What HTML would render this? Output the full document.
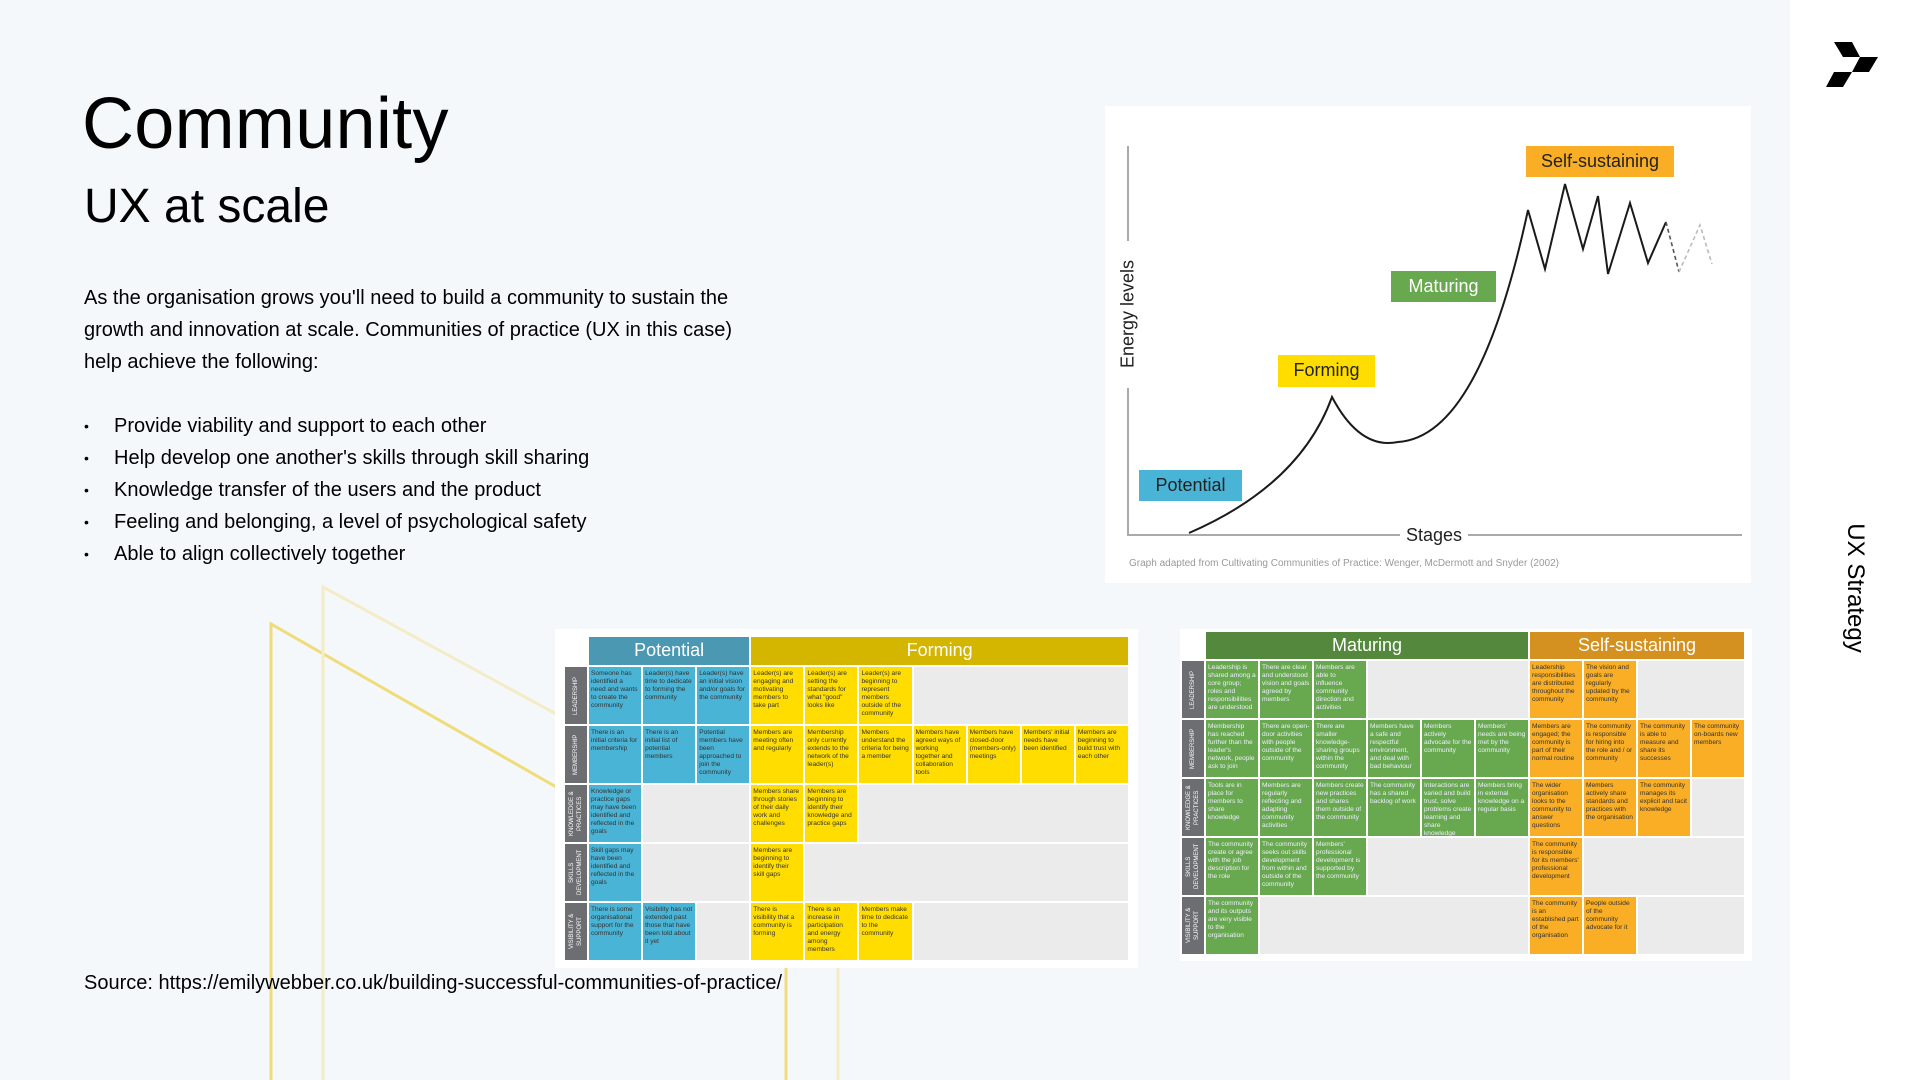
<!DOCTYPE html>
<html><head><meta charset="utf-8">
<style>
*{margin:0;padding:0;box-sizing:border-box}
body{width:1920px;height:1080px;position:relative;overflow:hidden;background:#fff;font-family:"Liberation Sans",Arial,sans-serif;color:#000}
#main{position:absolute;left:0;top:0;width:1790px;height:1080px;background:#f5f8fb}
.abs{position:absolute}
h1{position:absolute;left:82px;top:84px;font-size:72px;font-weight:400;line-height:80px;letter-spacing:0.3px}
h2{position:absolute;left:84px;top:180px;font-size:48px;font-weight:400;line-height:54px}
.p{position:absolute;left:84px;top:282px;font-size:20px;line-height:32px;width:670px}
ul{position:absolute;left:84px;top:410px;list-style:none;font-size:20px;line-height:32px}
ul li{position:relative;padding-left:30px}
ul li:before{content:"•";position:absolute;left:0;font-size:14px}
.src{position:absolute;left:84px;top:969px;font-size:20px;line-height:28px}
.card{position:absolute;background:#fff}
.tbl{position:absolute;display:grid;gap:2px}
.tbl div{font-size:6.6px;line-height:8px;padding:3px 2px;overflow:hidden;color:#333}
.lab{background:#6d6e71;color:#fff!important;writing-mode:vertical-rl;transform:rotate(180deg);text-align:center;font-size:6px!important;display:flex;align-items:center;justify-content:center;padding:1px!important}
.h{color:#fff!important;font-size:18px!important;line-height:26px!important;text-align:center;padding:0!important}
.b{background:#4ab4d6}.y{background:#ffdd00}.g{background:#68a84e;color:#eef!important}.o{background:#f9ae25}.e{background:#ebebeb}
.cl{position:absolute;font-size:18px;color:#222;line-height:30px;text-align:center}
</style></head><body>
<div id="main"></div>
<svg class="abs" style="left:0;top:0" width="1920" height="1080">
<polyline points="271,1080 271,624 558,788" fill="none" stroke="#efdc7a" stroke-width="3"/>
<polyline points="323,1080 323,587 558,715" fill="none" stroke="#f3ecc6" stroke-width="3"/>
<line x1="786" y1="968" x2="786" y2="1080" stroke="#efdc7a" stroke-width="3"/>
<line x1="838" y1="968" x2="838" y2="1080" stroke="#f3ecc6" stroke-width="3"/>
<polygon points="1834,42 1852,42 1860,57 1843,57" fill="#000"/>
<polygon points="1860,57 1878,57 1869,72 1852,72" fill="#000"/>
<polygon points="1834,72 1852,72 1843,87 1826,87" fill="#000"/>
</svg>
<h1>Community</h1>
<h2>UX at scale</h2>
<div class="p">As the organisation grows you'll need to build a community to sustain the growth and innovation at scale. Communities of practice (UX in this case) help achieve the following:</div>
<ul>
<li>Provide viability and support to each other</li>
<li>Help develop one another's skills through skill sharing</li>
<li>Knowledge transfer of the users and the product</li>
<li>Feeling and belonging, a level of psychological safety</li>
<li>Able to align collectively together</li>
</ul>
<div class="src">Source: https://emilywebber.co.uk/building-successful-communities-of-practice/</div>
<div class="abs" style="left:1855px;top:588px;transform:translate(-50%,-50%) rotate(90deg);font-size:24px;white-space:nowrap">UX Strategy</div>

<!-- chart -->
<div class="card" style="left:1105px;top:106px;width:646px;height:477px"></div>
<svg class="abs" style="left:0;top:0" width="1920" height="1080">
<line x1="1128" y1="146" x2="1128" y2="241" stroke="#aaa" stroke-width="2"/>
<line x1="1128" y1="388" x2="1128" y2="536" stroke="#aaa" stroke-width="2"/>
<line x1="1127" y1="535" x2="1400" y2="535" stroke="#aaa" stroke-width="2"/>
<line x1="1468" y1="535" x2="1742" y2="535" stroke="#aaa" stroke-width="2"/>
<path d="M1189,533 Q1300,485 1332,397 Q1360,450 1398,442 C1460,438 1500,340 1528,210 L1545,269 L1565,184 L1583,249 L1598,196 L1608,274 L1630,203 L1648,263 L1666,222" fill="none" stroke="#1a1a1a" stroke-width="2"/>
<path d="M1666,222 L1679,272" fill="none" stroke="#555" stroke-width="1.6" stroke-dasharray="4,3"/>
<path d="M1679,272 L1700,225 L1712,264" fill="none" stroke="#bbb" stroke-width="1.6" stroke-dasharray="4,3"/>
</svg>
<div class="cl" style="left:1400px;top:520px;width:68px">Stages</div>
<div class="abs" style="left:1128px;top:314px;transform:translate(-50%,-50%) rotate(-90deg);font-size:18px;color:#222;white-space:nowrap;background:#fff;padding:0 4px">Energy levels</div>
<div class="cl" style="left:1139px;top:470px;width:103px;height:31px;background:#4ab4d6">Potential</div>
<div class="cl" style="left:1278px;top:355px;width:97px;height:32px;background:#ffdd00">Forming</div>
<div class="cl" style="left:1391px;top:271px;width:105px;height:31px;background:#68a84e;color:#fff">Maturing</div>
<div class="cl" style="left:1526px;top:146px;width:148px;height:31px;background:#f9ae25">Self-sustaining</div>
<div class="abs" style="left:1129px;top:558px;font-size:10px;color:#999">Graph adapted from Cultivating Communities of Practice: Wenger, McDermott and Snyder (2002)</div>

<!-- table 1 -->
<div class="card" style="left:555px;top:629px;width:583px;height:339px"></div>
<div class="tbl" style="left:565px;top:637px;grid-template-columns:22px repeat(10,52.1px);grid-template-rows:28px repeat(5,57px)">
<div style="background:transparent"></div>
<div class="h" style="grid-column:span 3;background:#4a98b2">Potential</div>
<div class="h" style="grid-column:span 7;background:#d4b500">Forming</div>

<div class="lab">LEADERSHIP</div>
<div class="b">Someone has identified a need and wants to create the community</div>
<div class="b">Leader(s) have time to dedicate to forming the community</div>
<div class="b">Leader(s) have an initial vision and/or goals for the community</div>
<div class="y">Leader(s) are engaging and motivating members to take part</div>
<div class="y">Leader(s) are setting the standards for what "good" looks like</div>
<div class="y">Leader(s) are beginning to represent members outside of the community</div>
<div class="e" style="grid-column:span 4"></div>

<div class="lab">MEMBERSHIP</div>
<div class="b">There is an initial criteria for membership</div>
<div class="b">There is an initial list of potential members</div>
<div class="b">Potential members have been approached to join the community</div>
<div class="y">Members are meeting often and regularly</div>
<div class="y">Membership only currently extends to the network of the leader(s)</div>
<div class="y">Members understand the criteria for being a member</div>
<div class="y">Members have agreed ways of working together and collaboration tools</div>
<div class="y">Members have closed-door (members-only) meetings</div>
<div class="y">Members' initial needs have been identified</div>
<div class="y">Members are beginning to build trust with each other</div>

<div class="lab">KNOWLEDGE &amp; PRACTICES</div>
<div class="b">Knowledge or practice gaps may have been identified and reflected in the goals</div>
<div class="e" style="grid-column:span 2"></div>
<div class="y">Members share through stories of their daily work and challenges</div>
<div class="y">Members are beginning to identify their knowledge and practice gaps</div>
<div class="e" style="grid-column:span 5"></div>

<div class="lab">SKILLS DEVELOPMENT</div>
<div class="b">Skill gaps may have been identified and reflected in the goals</div>
<div class="e" style="grid-column:span 2"></div>
<div class="y">Members are beginning to identify their skill gaps</div>
<div class="e" style="grid-column:span 6"></div>

<div class="lab">VISIBILITY &amp; SUPPORT</div>
<div class="b">There is some organisational support for the community</div>
<div class="b">Visibility has not extended past those that have been told about it yet</div>
<div class="e"></div>
<div class="y">There is visibility that a community is forming</div>
<div class="y">There is an increase in participation and energy among members</div>
<div class="y">Members make time to dedicate to the community</div>
<div class="e" style="grid-column:span 4"></div>
</div>

<!-- table 2 -->
<div class="card" style="left:1180px;top:629px;width:572px;height:332px"></div>
<div class="tbl" style="left:1182px;top:632px;grid-template-columns:22px repeat(10,52px);grid-template-rows:27px repeat(5,57px)">
<div style="background:transparent"></div>
<div class="h" style="grid-column:span 6;background:#54893d">Maturing</div>
<div class="h" style="grid-column:span 4;background:#d4911f">Self-sustaining</div>

<div class="lab">LEADERSHIP</div>
<div class="g">Leadership is shared among a core group; roles and responsibilities are understood</div>
<div class="g">There are clear and understood vision and goals agreed by members</div>
<div class="g">Members are able to influence community direction and activities</div>
<div class="e" style="grid-column:span 3"></div>
<div class="o">Leadership responsibilities are distributed throughout the community</div>
<div class="o">The vision and goals are regularly updated by the community</div>
<div class="e" style="grid-column:span 2"></div>

<div class="lab">MEMBERSHIP</div>
<div class="g">Membership has reached further than the leader's network, people ask to join</div>
<div class="g">There are open-door activities with people outside of the community</div>
<div class="g">There are smaller knowledge-sharing groups within the community</div>
<div class="g">Members have a safe and respectful environment, and deal with bad behaviour</div>
<div class="g">Members actively advocate for the community</div>
<div class="g">Members' needs are being met by the community</div>
<div class="o">Members are engaged; the community is part of their normal routine</div>
<div class="o">The community is responsible for hiring into the role and / or community</div>
<div class="o">The community is able to measure and share its successes</div>
<div class="o">The community on-boards new members</div>

<div class="lab">KNOWLEDGE &amp; PRACTICES</div>
<div class="g">Tools are in place for members to share knowledge</div>
<div class="g">Members are regularly reflecting and adapting community activities</div>
<div class="g">Members create new practices and shares them outside of the community</div>
<div class="g">The community has a shared backlog of work</div>
<div class="g">Interactions are varied and build trust, solve problems create learning and share knowledge</div>
<div class="g">Members bring in external knowledge on a regular basis</div>
<div class="o">The wider organisation looks to the community to answer questions</div>
<div class="o">Members actively share standards and practices with the organisation</div>
<div class="o">The community manages its explicit and tacit knowledge</div>
<div class="e"></div>

<div class="lab">SKILLS DEVELOPMENT</div>
<div class="g">The community create or agree with the job description for the role</div>
<div class="g">The community seeks out skills development from within and outside of the community</div>
<div class="g">Members' professional development is supported by the community</div>
<div class="e" style="grid-column:span 3"></div>
<div class="o">The community is responsible for its members' professional development</div>
<div class="e" style="grid-column:span 3"></div>

<div class="lab">VISIBILITY &amp; SUPPORT</div>
<div class="g">The community and its outputs are very visible to the organisation</div>
<div class="e" style="grid-column:span 5"></div>
<div class="o">The community is an established part of the organisation</div>
<div class="o">People outside of the community advocate for it</div>
<div class="e" style="grid-column:span 2"></div>
</div>
</body></html>
